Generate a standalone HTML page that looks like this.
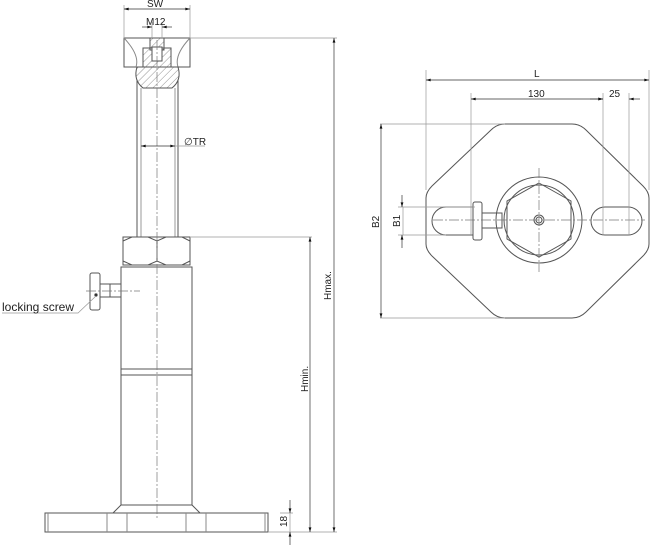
<!DOCTYPE html>
<html><head><meta charset="utf-8"><style>
html,body{margin:0;padding:0;background:#fff;}
svg{display:block;}
text{font-family:"Liberation Sans",sans-serif;font-size:10px;fill:#222;}
</style></head><body>
<svg width="650" height="545" viewBox="0 0 650 545" xmlns="http://www.w3.org/2000/svg">
<defs>
<marker id="a" viewBox="0 0 10 6" refX="10" refY="3" markerWidth="8" markerHeight="4" orient="auto-start-reverse"><path d="M0,0L10,3L0,6z" fill="#111"/></marker>
<pattern id="h" width="5" height="5" patternUnits="userSpaceOnUse" patternTransform="rotate(45)"><line x1="0" y1="0" x2="0" y2="5" stroke="#666" stroke-width="0.7"/></pattern>
</defs>
<g fill="none" stroke="#555" stroke-width="1">
<rect x="124" y="38" width="66" height="29"/>
<path d="M124,38 Q140,55 136,67 M190,38 Q174,55 178,67" stroke="#888"/>
<rect x="143" y="48" width="28" height="19" fill="url(#h)"/>
<rect x="150" y="38" width="14" height="12" fill="url(#h)"/>
<rect x="152" y="47" width="10" height="14" fill="#fff"/>
<path d="M137,67 L178,67 Q182,80 172,88 L143,88 Q133,80 137,67z" fill="url(#h)"/>
<line x1="137" y1="80" x2="137" y2="237"/><line x1="178" y1="80" x2="178" y2="237"/>
<line x1="141" y1="88" x2="141" y2="237" stroke="#999"/><line x1="175" y1="88" x2="175" y2="237" stroke="#999"/>
<rect x="123" y="237" width="67" height="28"/>
<path d="M123,241 L132,237 L148,237 L157,241 L166,237 L182,237 L190,241 M123,261 L132,265 L148,265 L157,261 L166,265 L182,265 L190,261 M157,241 V261"/>
<rect x="121" y="267" width="71" height="238"/>
<line x1="121" y1="369" x2="192" y2="369"/><line x1="121" y1="375" x2="192" y2="375"/>
<path d="M121,505 L113,513 M192,505 L200,513"/>
<rect x="45" y="513" width="223" height="19"/>
<path d="M48,513V532 M107,513V532 M127,513V532 M186,513V532 M206,513V532 M265,513V532" stroke="#888"/>
<rect x="90" y="273" width="10" height="37" rx="2"/>
<rect x="100" y="284" width="21" height="13"/>
<line x1="110" y1="284" x2="110" y2="297"/>
<circle cx="96" cy="295" r="1.2" fill="#000"/>
<path d="M505,124 L572,124 Q580,124 586,130 L643,186 Q649,192 649,198 L649,244 Q649,250 643,256 L586,312 Q580,318 572,318 L505,318 Q497,318 491,312 L432,256 Q426,250 426,244 L426,198 Q426,192 432,186 L491,130 Q497,124 505,124z"/>
<circle cx="539" cy="220" r="43"/>
<polygon points="539,183 571,201 571,239 539,257 507,239 507,201"/>
<circle cx="539" cy="220" r="35"/>
<circle cx="539" cy="220" r="5"/><circle cx="539" cy="220" r="3"/>
<path d="M446,207 L475,207 L475,235 L446,235 A14,14 0 0 1 446,207z"/>
<path d="M605,207 L628,207 A14,14 0 0 1 628,235 L605,235 A14,14 0 0 1 605,207z"/>
<rect x="473" y="202" width="9" height="38" rx="2" fill="#fff"/>
<rect x="482" y="213" width="20" height="15"/>
</g>
<g stroke="#777" stroke-width="0.7" stroke-dasharray="10,2,2,2" fill="none">
<line x1="157" y1="40" x2="157" y2="520"/>
<line x1="86" y1="291" x2="140" y2="291"/>
<line x1="433" y1="220" x2="645" y2="220"/>
<line x1="539" y1="168" x2="539" y2="272"/>
</g>
<g stroke="#999" stroke-width="0.7" fill="none">
<path d="M124,5V38 M190,5V38 M190,38H337 M191,237H312 M268,532H337 M280,513H293 M426,70V190 M649,70V190 M471,93V235 M603,93V235 M629,93V235 M380,124H505 M380,318H505 M398,207H475 M398,235H446 M152,22V38 M162,22V38"/>
</g>
<g stroke="#333" stroke-width="0.7" fill="none" marker-start="url(#a)" marker-end="url(#a)">
<line x1="124" y1="9" x2="190" y2="9"/>
<line x1="426" y1="80" x2="649" y2="80"/>
<line x1="471" y1="99" x2="603" y2="99"/>
<line x1="334" y1="38" x2="334" y2="532"/>
<line x1="310" y1="237" x2="310" y2="532"/>
<line x1="381" y1="124" x2="381" y2="318"/>
<line x1="141" y1="146" x2="175" y2="146"/>
</g>
<g stroke="#333" stroke-width="0.7" fill="none" marker-end="url(#a)">
<line x1="142" y1="27" x2="152" y2="27"/><line x1="172" y1="27" x2="162" y2="27"/>
<line x1="590" y1="99" x2="603" y2="99"/><line x1="640" y1="99" x2="629" y2="99"/>
<line x1="402" y1="195" x2="402" y2="207"/><line x1="402" y1="248" x2="402" y2="235"/>
<line x1="290" y1="500" x2="290" y2="513"/><line x1="290" y1="545" x2="290" y2="532"/>
</g>
<g stroke="#999" stroke-width="0.7" fill="none">
<path d="M175,146H205 M403,207V235 M290,513V532 M2,313H78L96,296"/>
</g>
<text x="147" y="7">SW</text>
<text x="146" y="25">M12</text>
<text x="184" y="145">∅TR</text>
<text x="2" y="311" style="font-size:12px">locking screw</text>
<text x="534" y="77">L</text>
<text x="528" y="97">130</text>
<text x="609" y="97">25</text>
<text transform="translate(287,527) rotate(-90)">18</text>
<text transform="translate(308,392) rotate(-90)">Hmin.</text>
<text transform="translate(331,300) rotate(-90)">Hmax.</text>
<text transform="translate(379,228) rotate(-90)">B2</text>
<text transform="translate(400,227) rotate(-90)">B1</text>
</svg>
</body></html>
